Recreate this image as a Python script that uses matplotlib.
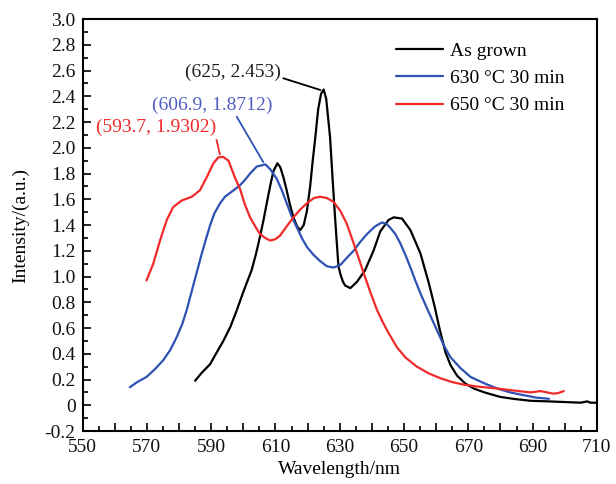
import matplotlib
matplotlib.use("Agg")
import matplotlib.pyplot as plt
from matplotlib.ticker import MultipleLocator, FuncFormatter

plt.rcParams['font.family'] = ['Liberation Serif', 'DejaVu Serif']

# ---- data ----
grown_x = [585, 587, 589.7, 591.5, 593.8, 596, 598, 600, 602.6, 604, 605.2, 606.3, 607.3,
           608.5, 609.4, 610.6, 611.5, 612.5, 613.5, 614.5, 615.6, 616.7, 617.7, 618.8,
           619.8, 620.8, 621.6, 622.4, 623.3, 624.2, 625, 625.8, 627, 627.8, 628.6, 629.6,
           630.2, 631, 631.7, 633.3, 635.4, 637.9, 640.5, 642.6, 645.2, 646.8, 649.4, 652,
           655.1, 657.7, 659.5, 661, 662.9, 664.5, 666.5, 669, 671.7, 675, 679.9, 684,
           689.2, 695, 700, 705, 707, 708, 710]
grown_y = [0.19, 0.25, 0.32, 0.40, 0.50, 0.61, 0.74, 0.88, 1.05, 1.18, 1.31, 1.44, 1.57,
           1.72, 1.82, 1.88, 1.85, 1.77, 1.67, 1.56, 1.46, 1.39, 1.36, 1.40,
           1.51, 1.70, 1.90, 2.08, 2.30, 2.42, 2.453, 2.38, 2.08, 1.75, 1.44, 1.08,
           1.02, 0.96, 0.93, 0.91, 0.96, 1.05, 1.20, 1.35, 1.44, 1.46, 1.45, 1.36,
           1.18, 0.95, 0.77, 0.60, 0.41, 0.31, 0.23, 0.17, 0.13, 0.10, 0.065, 0.05,
           0.035, 0.03, 0.025, 0.02, 0.03, 0.02, 0.02]

a630_x = [564.7, 567, 569.9, 572.5, 575.1, 577.3, 579.3, 581, 582.4, 584, 585.5, 587, 588.5,
          589.7, 591, 592.8, 594.3, 595.9, 597.5, 599, 600.5, 602.1, 604.2, 606.9, 608.5,
          610.4, 612, 613.5, 615, 616.7, 618.2, 619.8, 621.8, 623.9, 626, 628.1, 630.2, 632,
          634.3, 636.4, 638.5, 641, 643.1, 644.5, 645.7, 647.3, 648.8, 650.4, 652, 653.5,
          655.1, 657.2, 660.3, 662.5, 664.4, 667.5, 670.7, 675, 679, 683, 687.3, 691, 695.1]
a630_y = [0.14, 0.18, 0.22, 0.28, 0.35, 0.43, 0.53, 0.63, 0.74, 0.89, 1.03, 1.17, 1.30,
          1.40, 1.49, 1.57, 1.62, 1.65, 1.68, 1.71, 1.75, 1.80, 1.855, 1.8712, 1.83,
          1.76, 1.67, 1.57, 1.47, 1.38, 1.30, 1.23, 1.17, 1.12, 1.08, 1.07, 1.09, 1.14,
          1.20, 1.27, 1.33, 1.39, 1.42, 1.41, 1.38, 1.33, 1.26, 1.17, 1.07, 0.97,
          0.87, 0.75, 0.58, 0.46, 0.375, 0.29, 0.22, 0.17, 0.13, 0.10, 0.078, 0.06, 0.05]

a650_x = [569.9, 572, 574.1, 576.2, 578.2, 580.8, 584, 586.5, 588.6, 590.7, 592.2, 593.7,
          595.4, 597.4, 599, 600.5, 602.1, 603.7, 605.2, 606.8, 608.3, 610, 611.5, 613.5,
          615.6, 617.7, 619.8, 622, 623.9, 626, 628.1, 630.2, 632.2, 634.3, 635.8, 637.4,
          639.5, 641.6, 643.3, 645, 647.8, 650.5, 654, 657.5, 661.3, 665, 668.6, 673, 679,
          684, 689.3, 692.5, 694.5, 696.5, 698, 699.7]
a650_y = [0.97, 1.10, 1.28, 1.44, 1.54, 1.59, 1.62, 1.67, 1.77, 1.88, 1.925, 1.9302,
          1.90, 1.77, 1.68, 1.56, 1.46, 1.39, 1.33, 1.30, 1.28, 1.29, 1.32, 1.39,
          1.46, 1.52, 1.57, 1.61, 1.62, 1.61, 1.58, 1.51, 1.41, 1.26, 1.15, 1.03,
          0.88, 0.74, 0.65, 0.57, 0.45, 0.37, 0.30, 0.25, 0.21, 0.18, 0.16, 0.145, 0.13,
          0.115, 0.10, 0.11, 0.10, 0.09, 0.095, 0.11]

series_labels = ['As grown', '630 \u00b0C 30 min', '650 \u00b0C 30 min']
series_colors = ['#000000', '#2d52b4', '#f02a2a']

peak_labels = ['(625, 2.453)', '(606.9, 1.8712)', '(593.7, 1.9302)']
label_colors = ['#222222', '#4f5fc0', '#f02a2a']

# ---- figure ----
fig = plt.figure(figsize=(6.16, 4.84), dpi=100)
ax = fig.add_axes([0.134, 0.1095, 0.835, 0.851])

for xs, ys, lab, col in zip([grown_x, a630_x, a650_x], [grown_y, a630_y, a650_y],
                            series_labels, series_colors):
    ax.plot(xs, ys, color=col, lw=1.6, label=lab, solid_joinstyle='round',
            solid_capstyle='round')

# annotation text centres and leader lines
text_pos = [(596.7, 2.59), (590.2, 2.33), (573.0, 2.16)]
line_start = [(612.5, 2.54), (598.0, 2.24), (591.7, 2.06)]
line_end = [(623.9, 2.45), (606.2, 1.89), (592.7, 1.95)]
for lab, tp, ls, le, col, lcol in zip(peak_labels, text_pos, line_start, line_end,
                                      label_colors, series_colors):
    ax.text(tp[0], tp[1], lab, color=col, fontsize=14, ha='center', va='center')
    ax.plot([ls[0], le[0]], [ls[1], le[1]], color=lcol, lw=1.3)

ax.set_xlim(550, 710)
ax.set_ylim(-0.2, 3.0)
ax.xaxis.set_major_locator(MultipleLocator(10))
ax.xaxis.set_minor_locator(MultipleLocator(5))
ax.xaxis.set_major_formatter(FuncFormatter(
    lambda v, p: f"{int(round(v))}" if int(round(v - 550)) % 20 == 0 else ""))
ax.yaxis.set_major_locator(MultipleLocator(0.2))
ax.yaxis.set_minor_locator(MultipleLocator(0.1))
ax.yaxis.set_major_formatter(FuncFormatter(
    lambda v, p: "0" if abs(v) < 1e-9 else f"{v:.1f}"))

ax.tick_params(which='both', direction='in', top=False, right=False, labelsize=14,
               width=1.3, colors='#111111')
ax.tick_params(which='major', length=6)
ax.tick_params(which='minor', length=3.5)
ax.tick_params(axis='x', which='major', pad=6)
ax.tick_params(axis='y', which='major', pad=5)
for s in ax.spines.values():
    s.set_linewidth(1.5)

ax.set_xlabel('Wavelength/nm', fontsize=14, labelpad=3)
ax.set_ylabel('Intensity/(a.u.)', fontsize=14, labelpad=11)

leg = ax.legend(loc='upper left', bbox_to_anchor=(0.595, 0.962), frameon=False,
                fontsize=14, handlelength=2.4, handletextpad=0.35, labelspacing=0.49,
                borderaxespad=0)

fig.savefig('out.png', dpi=100)
